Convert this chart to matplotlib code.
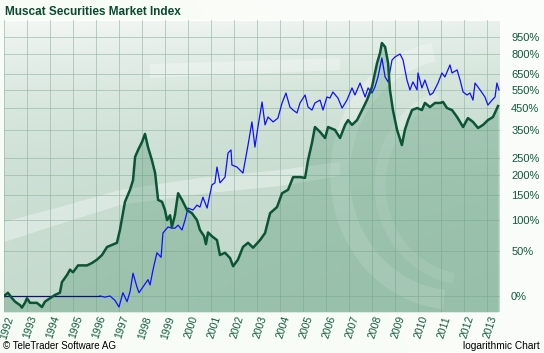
import numpy as np
import matplotlib.pyplot as plt
from matplotlib.colors import LinearSegmentedColormap
from matplotlib.transforms import Affine2D, ScaledTranslation
from matplotlib.patches import Arc, Polygon

# Muscat index, % change since start
msm_years = [1992.00, 1992.17, 1992.35, 1992.48, 1992.70, 1992.78, 1992.91, 1993.00, 1993.13, 1993.43,
             1993.65, 1993.78, 1994.00, 1994.22, 1994.43, 1994.52, 1994.74, 1994.87, 1995.00, 1995.22,
             1995.61, 1995.83, 1996.04, 1996.26, 1996.48, 1996.91, 1997.04, 1997.26, 1997.48, 1997.61,
             1997.70, 1997.83, 1998.00, 1998.13, 1998.26, 1998.43, 1998.57, 1998.70, 1998.87, 1999.00,
             1999.09, 1999.22, 1999.30, 1999.43, 1999.57, 1999.74, 1999.96, 2000.17, 2000.39, 2000.52,
             2000.70, 2000.78, 2000.87, 2001.04, 2001.26, 2001.39, 2001.61, 2001.83, 2001.96, 2002.17,
             2002.39, 2002.61, 2002.83, 2003.13, 2003.35, 2003.57, 2003.87, 2004.09, 2004.35, 2004.57,
             2004.87, 2005.09, 2005.22, 2005.39, 2005.52, 2005.74, 2005.96, 2006.09, 2006.39, 2006.61,
             2006.83, 2006.96, 2007.13, 2007.35, 2007.57, 2007.78, 2008.00, 2008.22, 2008.35, 2008.43,
             2008.57, 2008.70, 2008.78, 2008.91, 2009.09, 2009.30, 2009.43, 2009.57, 2009.74, 2009.96,
             2010.17, 2010.30, 2010.52, 2010.74, 2010.96, 2011.09, 2011.26, 2011.48, 2011.70, 2011.96,
             2012.17, 2012.39, 2012.61, 2012.83, 2013.04, 2013.26, 2013.48]
msm_pct = [0, 3, -2, -5, -8, -10, -6, -2, -6, -6,
           -9.5, -5, -2, 1, 3, 13.5, 21, 27, 24, 32,
           32, 35, 39, 45, 56, 62, 82, 135, 162, 186,
           253, 276, 304, 335, 286, 243, 205, 139, 135, 118,
           99, 108, 87, 108, 154, 139, 118, 112, 99, 82,
           72, 60, 78, 72, 66, 45, 48, 41, 31, 39,
           56, 62, 55, 66, 77, 112, 124, 154, 162, 194,
           194, 192, 243, 301, 363, 343, 319, 363, 351, 319,
           372, 393, 372, 393, 440, 491, 566, 727, 806, 892,
           857, 727, 548, 440, 351, 293, 351, 393, 440, 450,
           440, 476, 455, 476, 476, 481, 450, 440, 407, 363,
           402, 385, 359, 372, 393, 407, 460]

# comparison index (blue), flat until first quote
cmp_years = [1992.00, 1996.17, 1996.39, 1996.61, 1996.83, 1997.00, 1997.17, 1997.35, 1997.48, 1997.61,
             1997.78, 1997.87, 1998.04, 1998.26, 1998.35, 1998.48, 1998.65, 1998.83, 1998.91, 1999.13,
             1999.30, 1999.43, 1999.57, 1999.74, 1999.87, 2000.00, 2000.22, 2000.39, 2000.52, 2000.65,
             2000.83, 2001.04, 2001.17, 2001.26, 2001.39, 2001.61, 2001.74, 2001.87, 2001.91, 2002.13,
             2002.39, 2002.61, 2002.78, 2002.91, 2003.04, 2003.22, 2003.35, 2003.48, 2003.70, 2003.91,
             2004.09, 2004.26, 2004.43, 2004.57, 2004.74, 2004.87, 2005.09, 2005.22, 2005.39, 2005.52,
             2005.74, 2005.87, 2006.04, 2006.17, 2006.30, 2006.52, 2006.70, 2006.91, 2007.13, 2007.26,
             2007.48, 2007.70, 2007.83, 2008.00, 2008.13, 2008.26, 2008.43, 2008.57, 2008.70, 2008.87,
             2009.00, 2009.22, 2009.35, 2009.52, 2009.65, 2009.78, 2009.96, 2010.00, 2010.17, 2010.30,
             2010.52, 2010.65, 2010.87, 2011.04, 2011.17, 2011.39, 2011.48, 2011.70, 2011.83, 2011.96,
             2012.13, 2012.26, 2012.39, 2012.48, 2012.70, 2012.91, 2013.04, 2013.22, 2013.35, 2013.43,
             2013.52]
cmp_pct = [0, 0, -1, 0, -4, -9.5, 3, -5, 4, 23,
           8.5, 3, 8.5, 16, 10.5, 27, 48, 42, 77, 87,
           85, 85, 90, 82, 99, 122, 118, 128, 124, 145,
           122, 174, 179, 222, 179, 194, 266, 276, 228, 222,
           205, 293, 385, 286, 363, 481, 372, 407, 385, 402,
           476, 530, 455, 440, 426, 476, 519, 455, 440, 476,
           491, 440, 508, 502, 536, 502, 450, 491, 560, 519,
           590, 508, 560, 530, 566, 629, 766, 629, 597, 750,
           774, 798, 750, 609, 548, 597, 548, 656, 560, 609,
           519, 530, 590, 656, 629, 713, 656, 677, 609, 536,
           519, 530, 491, 590, 548, 508, 465, 491, 508, 590,
           548]

tick_pct = [0, 50, 100, 150, 200, 250, 350, 450, 550, 650, 800, 950]
years = list(range(1992, 2014))

green = '#0b5536'
txt_green = '#0e5a3c'

fig = plt.figure(figsize=(5.44, 3.53), dpi=100)
fig.patch.set_facecolor('white')

W, H = 544, 353
px = Affine2D().scale(1 / W, -1 / H).translate(0, 1) + fig.transFigure

# label area on the right: faint greenish fade
bg = fig.add_axes([0, 0, 1, 1], zorder=-5)
bg.axis('off')
gx = np.linspace(0, 1, 200)
gy = np.linspace(0, 1, 100)
GX, GY = np.meshgrid(gx, gy)
side = np.clip(1 - 0.25 * (1 - GX) - 0.1 * GY, 0, 1)
bg.imshow(side, cmap='Greens_r', vmin=-3, vmax=1.2, extent=[0, 1, 0, 1], aspect='auto', alpha=0.3)
bg.set_xlim(0, 1)
bg.set_ylim(0, 1)

ax = fig.add_axes([4 / W, (H - 312) / H, 496 / W, 292 / H])

x0, x1 = 1992.0, 1992 + 496 / 23
y0, y1 = 0.865, 12.22
ax.set_xlim(x0, x1)
ax.set_yscale('log')
ax.set_ylim(y0, y1)

# plot area gradient
cmap = LinearSegmentedColormap.from_list('bgc', ['#f4f7f5', '#d8e7de', '#bcd5c6'])
u = np.linspace(0, 1, 300)
v = np.linspace(0, 1, 200)
U, V = np.meshgrid(u, v)
grad = 0.7 * V + 0.15 * U
ax.imshow(grad, cmap=cmap, extent=[x0, x1, y0, y1], aspect='auto', origin='upper',
          vmin=0, vmax=0.85, zorder=0)

# watermark swoosh (in pixel space)
band_top = [(4, 222), (60, 207), (120, 190), (200, 178), (280, 170), (340, 162)]
band_bot = [(340, 176), (280, 186), (200, 194), (120, 205), (60, 224), (4, 242)]
wm = Polygon(band_top + band_bot, closed=True, transform=px, color='white', alpha=0.35, lw=0, zorder=1)
ax.add_patch(wm)
wm.set_clip_path(ax.patch)
top_band = Polygon([(150, 64), (340, 58), (340, 70), (150, 78)], closed=True, transform=px,
                   color='white', alpha=0.3, lw=0, zorder=1)
ax.add_patch(top_band)
top_band.set_clip_path(ax.patch)
for (cx, cy, w_, h_, t1, t2, lw_, a_) in [(455, 175, 230, 250, 95, 260, 14, 0.28),
                                           (470, 185, 180, 190, 100, 250, 8, 0.2)]:
    arc = Arc((cx, cy), w_, h_, theta1=t1, theta2=t2, transform=px, color='white',
              lw=lw_, alpha=a_, zorder=1)
    ax.add_patch(arc)
    arc.set_clip_path(ax.patch)

ax.set_yticks([1 + p / 100 for p in tick_pct])
ax.set_yticklabels([f'{p}%' for p in tick_pct])
ax.minorticks_off()
ax.set_xticks(years)
ax.set_xticklabels([str(y) for y in years], rotation=72)
ax.yaxis.tick_right()
ax.tick_params(axis='y', length=0, pad=8, labelsize=8, labelcolor=txt_green)
ax.tick_params(axis='x', length=0, pad=2, labelsize=7.5, labelcolor=txt_green)
shift = ScaledTranslation(3 / 100, 0, fig.dpi_scale_trans)
for lab in ax.get_xticklabels():
    lab.set_transform(lab.get_transform() + shift)
for lab in ax.get_yticklabels() + ax.get_xticklabels():
    lab.set_fontfamily('Liberation Sans')

ax.grid(True, color='#8fb5a1', lw=0.6, alpha=0.7, zorder=2)
for s in ax.spines.values():
    s.set_visible(False)

my = [1 + p / 100 for p in msm_pct]
cy = [1 + p / 100 for p in cmp_pct]
ax.fill_between(msm_years, my, y0, color='#4d9470', alpha=0.33, lw=0, zorder=3)
ax.plot(cmp_years[:2], cy[:2], color='#10107a', lw=0.9, zorder=4)
ax.plot(cmp_years[1:], cy[1:], color='#1010ff', lw=0.9, zorder=4)
ax.plot(msm_years, my, color=green, lw=1.8, zorder=5, solid_joinstyle='round')

fig.text(5 / W, 1 - 12 / H, 'Muscat Securities Market Index', fontsize=8.5, fontweight='bold',
         color='#0a4a30', family='Liberation Sans', va='center', ha='left')
fig.text(3 / W, 1 - 346 / H, '\u00a9 TeleTrader Software AG', fontsize=7, color='black',
         family='Liberation Sans', va='center', ha='left')
fig.text(540 / W, 1 - 346 / H, 'logarithmic Chart', fontsize=7.3, color='black',
         family='Liberation Sans', va='center', ha='right')

fig.savefig('out.png', dpi=100)
